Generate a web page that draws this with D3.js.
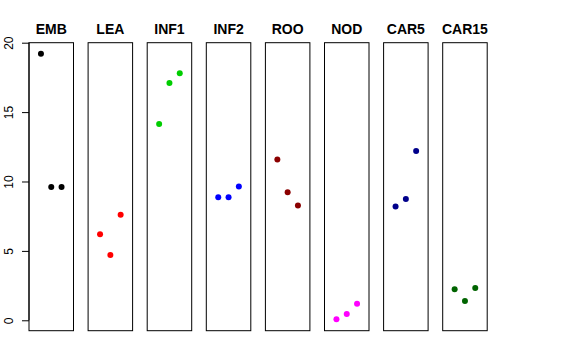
<!DOCTYPE html>
<html><head><meta charset="utf-8">
<script src="https://cdn.jsdelivr.net/npm/d3@7"></script>
<style>body{margin:0;background:#fff}svg{display:block}</style>
</head><body>
<script>
const categories = ["EMB","LEA","INF1","INF2","ROO","NOD","CAR5","CAR15"];
const colors = ["#000000","#FF0000","#00CD00","#0000FF","#8B0000","#FF00FF","#00008B","#006400"];
const values = [
  [19.2, 9.6, 9.6],
  [6.2, 4.7, 7.6],
  [14.15, 17.1, 17.8],
  [8.87, 8.87, 9.64],
  [11.58, 9.23, 8.27],
  [0.07, 0.45, 1.19],
  [8.2, 8.73, 12.2],
  [2.23, 1.39, 2.32]
];
const yTicks = [0,5,10,15,20];

const W=576,H=360;
const svg=d3.select("body").append("svg").attr("width",W).attr("height",H);
const plotTop=42.7,plotBottom=330.7;
const y=d3.scaleLinear().domain([-0.75,20]).range([plotBottom,plotTop]);
const panelX=d3.scaleBand().domain(categories).range([29,29+59.1*8]).paddingInner(0).paddingOuter(0);
const pw=44.5;
const x=d3.scaleLinear().domain([-0.16,4.16]).range([0,pw]);

categories.forEach((c,i)=>{
  const g=svg.append("g").attr("transform",`translate(${panelX(c)},0)`);
  g.append("rect").attr("x",0).attr("y",plotTop).attr("width",pw).attr("height",plotBottom-plotTop)
    .attr("fill","none").attr("stroke","#000").attr("stroke-width",1);
  g.append("text").attr("x",pw/2).attr("y",34).attr("text-anchor","middle")
    .attr("font-family","Liberation Sans, Arial, sans-serif").attr("font-weight","bold")
    .attr("font-size",14).text(c);
  g.selectAll("circle").data(values[i]).join("circle")
    .attr("cx",(d,j)=>x(j+1)).attr("cy",d=>y(d)).attr("r",3).attr("fill",colors[i]);
});

const ax=svg.append("g").attr("transform",`translate(29,0)`)
  .call(d3.axisLeft(y).tickValues(yTicks).tickSize(7).tickPadding(0).tickFormat(d3.format("d")));
ax.select(".domain").attr("stroke","none");
ax.append("line").attr("x1",0).attr("x2",0).attr("y1",y(0)).attr("y2",y(20)).attr("stroke","#000");
ax.selectAll(".tick text").attr("font-family","Liberation Sans, Arial, sans-serif").attr("font-size",12)
  .attr("fill","#000").attr("text-anchor","middle").attr("dy",0)
  .attr("transform","translate(-16.5,0) rotate(-90)").attr("x",0).attr("y",0);
</script>
</body></html>
